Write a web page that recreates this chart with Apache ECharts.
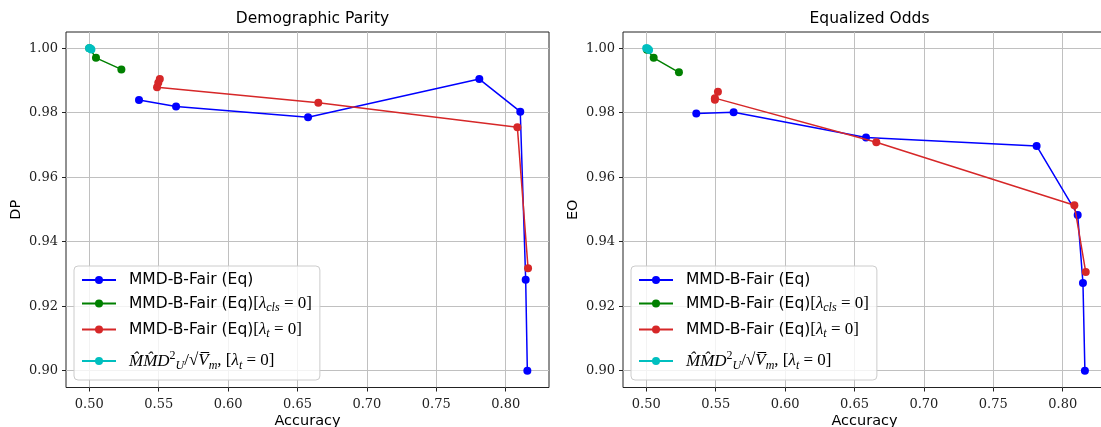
<!DOCTYPE html>
<html lang="en">
<head>
    <meta charset="UTF-8">
    <title>DP / EO vs Accuracy</title>
    <script src="https://cdn.jsdelivr.net/npm/echarts@6/dist/echarts.min.js"></script>
</head>

<style type="text/css">
    html, body {
        margin: 0;
        padding: 0;
        background: #fff;
    }

    #chart {
        width: 1101px;
        height: 427px;
    }
</style>

<body>
<div id="chart"></div>

<script>
    // series names
    var names = ['eq', 'cls0', 'lt0', 'mmd'];
    var colors = ['#0000ff', '#008000', '#d62728', '#00bfbf'];

    // Demographic Parity panel
    var dpEqAcc = [0.5358, 0.5625, 0.6576, 0.7810, 0.8105, 0.8144, 0.8156];
    var dpEqVal = [0.9839, 0.9819, 0.9786, 0.9904, 0.9803, 0.9282, 0.9000];
    var dpClsAcc = [0.5000, 0.5048, 0.5231];
    var dpClsVal = [1.0000, 0.9970, 0.9934];
    var dpLtAcc = [0.5508, 0.5497, 0.5488, 0.6650, 0.8084, 0.8161];
    var dpLtVal = [0.9904, 0.9893, 0.9879, 0.9831, 0.9755, 0.9318];
    var dpMmdAcc = [0.4998, 0.5004, 0.5010, 0.5015];
    var dpMmdVal = [1.0000, 1.0000, 0.9998, 0.9996];

    // Equalized Odds panel
    var eoEqAcc = [0.5360, 0.5629, 0.6583, 0.7812, 0.8108, 0.8146, 0.8160];
    var eoEqVal = [0.9797, 0.9801, 0.9723, 0.9697, 0.9483, 0.9272, 0.9000];
    var eoClsAcc = [0.5005, 0.5053, 0.5235];
    var eoClsVal = [0.9995, 0.9970, 0.9925];
    var eoLtAcc = [0.5516, 0.5494, 0.5494, 0.6657, 0.8084, 0.8166];
    var eoLtVal = [0.9865, 0.9845, 0.9840, 0.9708, 0.9513, 0.9306];
    var eoMmdAcc = [0.4999, 0.5006, 0.5012, 0.5020];
    var eoMmdVal = [1.0000, 1.0000, 0.9997, 0.9994];

    var xTicks = [0.50, 0.55, 0.60, 0.65, 0.70, 0.75, 0.80];
    var yTicks = [0.90, 0.92, 0.94, 0.96, 0.98, 1.00];

    function zip(xs, ys) {
        var out = [];
        for (var i = 0; i < xs.length; i++) {
            out.push([xs[i], ys[i]]);
        }
        return out;
    }

    var panels = [
        [zip(dpEqAcc, dpEqVal), zip(dpClsAcc, dpClsVal), zip(dpLtAcc, dpLtVal), zip(dpMmdAcc, dpMmdVal)],
        [zip(eoEqAcc, eoEqVal), zip(eoClsAcc, eoClsVal), zip(eoLtAcc, eoLtVal), zip(eoMmdAcc, eoMmdVal)]
    ];

    var legendText = {
        eq: '{n|MMD-B-Fair (Eq)}',
        cls0: '{n|MMD-B-Fair (Eq)}{m|[}{it|λ}{sub|cls}{m| = 0]}',
        lt0: '{n|MMD-B-Fair (Eq)}{m|[}{it|λ}{sub|t}{m| = 0]}',
        mmd: '{it0|M̂M̂D}{sup|2}{sub|U}{m|/√}{it|V̅}{sub|m}{m|, [}{it|λ}{sub|t}{m| = 0]}'
    };

    // sub/superscripts are shifted with padding, everything stays middle aligned
    var richStyles = {
        n: {fontFamily: 'DejaVu Sans', fontSize: 15.5, color: '#000', lineHeight: 20, padding: [0, 0, 0, 8]},
        m: {fontFamily: 'Liberation Serif', fontSize: 17, color: '#000', lineHeight: 20},
        it: {fontFamily: 'Liberation Serif', fontStyle: 'italic', fontSize: 17, color: '#000', lineHeight: 20},
        it0: {fontFamily: 'Liberation Serif', fontStyle: 'italic', fontSize: 17, color: '#000', lineHeight: 20,
            padding: [8, 0, 7, 8]},
        sub: {fontFamily: 'Liberation Serif', fontStyle: 'italic', fontSize: 12, color: '#000',
            lineHeight: 12, padding: [9, 0, 0, 0]},
        sup: {fontFamily: 'Liberation Serif', fontSize: 12, color: '#000', lineHeight: 12, padding: [0, 0, 11, 0]}
    };

    var gridLefts = [66, 623];
    var titles = ['Demographic Parity', 'Equalized Odds'];
    var yNames = ['DP', 'EO'];

    var option = {
        animation: false,
        backgroundColor: '#fff',
        title: [],
        grid: [],
        xAxis: [],
        yAxis: [],
        legend: [],
        series: []
    };

    for (var p = 0; p < 2; p++) {
        option.title.push({
            text: titles[p],
            left: gridLefts[p] + 241.5,
            textAlign: 'center',
            top: 6,
            textStyle: {fontFamily: 'DejaVu Sans', fontSize: 15.5, fontWeight: 'normal', color: '#000'}
        });
        option.grid.push({
            left: gridLefts[p],
            top: 32,
            width: 483,
            height: 355.5,
            outerBoundsMode: 'none',
            containLabel: false,
            show: true,
            borderColor: '#222',
            borderWidth: 1,
            backgroundColor: 'transparent'
        });
        option.xAxis.push({
            type: 'value',
            gridIndex: p,
            min: 0.4832,
            max: 0.8312,
            name: 'Accuracy',
            nameLocation: 'middle',
            nameGap: 26,
            nameMoveOverlap: false,
            nameTextStyle: {fontFamily: 'DejaVu Sans', fontSize: 14.5, color: '#000', verticalAlign: 'top'},
            axisLine: {show: false},
            axisTick: {show: true, length: 4, customValues: xTicks, lineStyle: {color: '#222'}},
            axisLabel: {
                customValues: xTicks,
                fontFamily: 'DejaVu Serif', fontSize: 13, color: '#222', margin: 11,
                formatter: function (v) { return v.toFixed(2); }
            },
            splitLine: {show: true, lineStyle: {color: '#c0c0c0', width: 1}}
        });
        option.yAxis.push({
            type: 'value',
            gridIndex: p,
            min: 0.8948,
            max: 1.005,
            name: yNames[p],
            nameLocation: 'middle',
            nameGap: 42,
            nameMoveOverlap: false,
            nameTextStyle: {fontFamily: 'DejaVu Sans', fontSize: 14.5, color: '#000'},
            axisLine: {show: false},
            axisTick: {show: true, length: 4, customValues: yTicks, lineStyle: {color: '#222'}},
            axisLabel: {
                customValues: yTicks,
                fontFamily: 'DejaVu Serif', fontSize: 13, color: '#222', margin: 8,
                formatter: function (v) { return v.toFixed(2); }
            },
            splitLine: {show: true, lineStyle: {color: '#c0c0c0', width: 1}}
        });
        option.legend.push({
            orient: 'vertical',
            left: gridLefts[p] + 8,
            top: 266,
            padding: [6, 8, 3, 7],
            itemGap: 5,
            itemWidth: 34,
            itemHeight: 10,
            backgroundColor: 'rgba(255,255,255,0.8)',
            borderColor: '#ccc',
            borderWidth: 1,
            borderRadius: 4,
            data: names,
            formatter: function (name) { return legendText[name]; },
            textStyle: {rich: richStyles}
        });
        for (var s = 0; s < 4; s++) {
            option.series.push({
                name: names[s],
                type: 'line',
                xAxisIndex: p,
                yAxisIndex: p,
                data: panels[p][s],
                symbol: 'circle',
                symbolSize: 8,
                showSymbol: true,
                color: colors[s],
                lineStyle: {width: 1.5, color: colors[s]},
                itemStyle: {color: colors[s]},
                z: 2 + s
            });
        }
    }

    var chart = echarts.init(document.getElementById('chart'));
    chart.setOption(option);
</script>

</body>
</html>
